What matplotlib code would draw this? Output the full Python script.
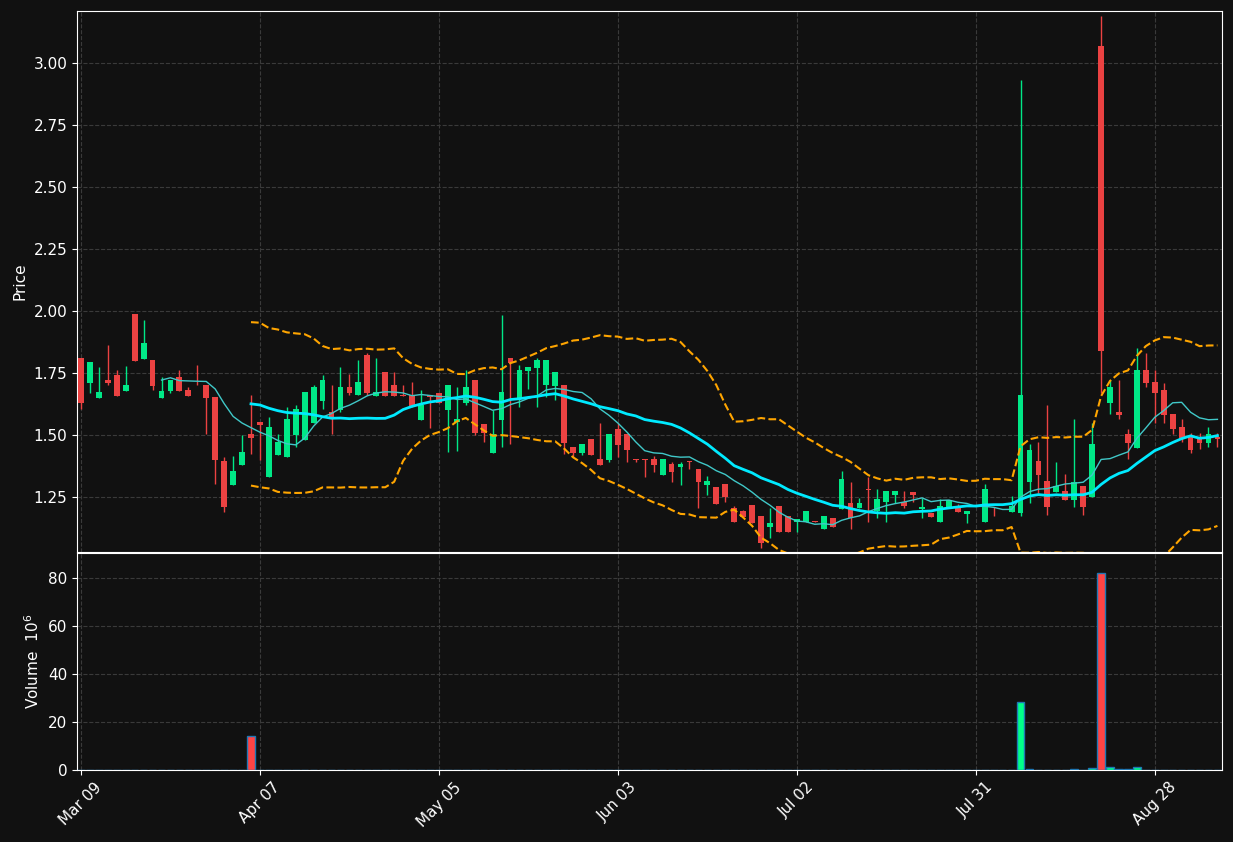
#!/usr/bin/env python
"""Candlestick chart with MA10 / MA20, Bollinger bands and volume panel."""
import numpy as np
import pandas as pd
import matplotlib
matplotlib.use("Agg")
import matplotlib.pyplot as plt

# OHLC per trading session (index 0..127)
opens = [1.810, 1.711, 1.650, 1.722, 1.742, 1.679, 1.988, 1.808, 1.802, 1.650,
         1.679, 1.733, 1.681, 1.702, 1.702, 1.653, 1.395, 1.300, 1.380, 1.504,
         1.552, 1.332, 1.421, 1.413, 1.501, 1.481, 1.550, 1.638, 1.592, 1.602,
         1.694, 1.663, 1.823, 1.659, 1.754, 1.702, 1.663, 1.660, 1.562, 1.660,
         1.668, 1.602, 1.551, 1.630, 1.722, 1.543, 1.429, 1.562, 1.809, 1.650,
         1.758, 1.771, 1.702, 1.699, 1.702, 1.452, 1.427, 1.484, 1.403, 1.399,
         1.524, 1.504, 1.405, 1.405, 1.403, 1.339, 1.383, 1.371, 1.394, 1.363,
         1.300, 1.290, 1.302, 1.204, 1.194, 1.218, 1.173, 1.130, 1.214, 1.173,
         1.150, 1.150, 1.152, 1.122, 1.164, 1.202, 1.225, 1.206, 1.283, 1.195,
         1.231, 1.258, 1.231, 1.270, 1.202, 1.184, 1.150, 1.211, 1.207, 1.183,
         1.154, 1.150, 1.174, 1.174, 1.191, 1.184, 1.312, 1.395, 1.315, 1.270,
         1.274, 1.238, 1.294, 1.251, 3.069, 1.630, 1.594, 1.504, 1.449, 1.762,
         1.714, 1.681, 1.584, 1.533, 1.493, 1.485, 1.469, 1.493]
highs = [1.810, 1.794, 1.773, 1.862, 1.762, 1.778, 1.988, 1.964, 1.802, 1.733,
         1.722, 1.762, 1.692, 1.781, 1.702, 1.653, 1.413, 1.415, 1.499, 1.660,
         1.552, 1.571, 1.504, 1.614, 1.620, 1.673, 1.700, 1.742, 1.700, 1.773,
         1.745, 1.801, 1.830, 1.809, 1.754, 1.754, 1.700, 1.714, 1.681, 1.660,
         1.668, 1.702, 1.692, 1.761, 1.722, 1.543, 1.601, 1.983, 1.809, 1.781,
         1.774, 1.810, 1.802, 1.754, 1.702, 1.452, 1.464, 1.484, 1.547, 1.504,
         1.547, 1.504, 1.405, 1.405, 1.415, 1.403, 1.392, 1.392, 1.394, 1.363,
         1.335, 1.290, 1.302, 1.214, 1.198, 1.218, 1.173, 1.204, 1.214, 1.173,
         1.160, 1.194, 1.152, 1.173, 1.164, 1.355, 1.312, 1.245, 1.332, 1.281,
         1.274, 1.274, 1.274, 1.270, 1.247, 1.184, 1.241, 1.238, 1.220, 1.194,
         1.154, 1.301, 1.211, 1.174, 1.254, 2.930, 1.462, 1.471, 1.620, 1.392,
         1.343, 1.563, 1.294, 1.550, 3.190, 1.722, 1.722, 1.523, 1.850, 1.830,
         1.762, 1.711, 1.584, 1.563, 1.509, 1.509, 1.531, 1.507]
lows = [1.605, 1.671, 1.650, 1.700, 1.659, 1.679, 1.800, 1.808, 1.681, 1.650,
        1.671, 1.679, 1.659, 1.700, 1.504, 1.301, 1.188, 1.300, 1.380, 1.422,
        1.399, 1.332, 1.421, 1.413, 1.450, 1.481, 1.550, 1.604, 1.503, 1.592,
        1.660, 1.660, 1.663, 1.659, 1.659, 1.659, 1.659, 1.612, 1.562, 1.527,
        1.630, 1.430, 1.434, 1.620, 1.500, 1.471, 1.429, 1.450, 1.462, 1.612,
        1.687, 1.612, 1.652, 1.640, 1.422, 1.413, 1.419, 1.421, 1.380, 1.392,
        1.413, 1.392, 1.392, 1.332, 1.352, 1.339, 1.312, 1.300, 1.362, 1.204,
        1.259, 1.223, 1.231, 1.150, 1.171, 1.146, 1.043, 1.083, 1.110, 1.110,
        1.110, 1.150, 1.149, 1.122, 1.130, 1.202, 1.122, 1.206, 1.150, 1.164,
        1.150, 1.225, 1.204, 1.231, 1.164, 1.171, 1.150, 1.211, 1.191, 1.146,
        1.152, 1.150, 1.172, 1.172, 1.191, 1.173, 1.225, 1.265, 1.177, 1.270,
        1.239, 1.211, 1.176, 1.251, 1.670, 1.584, 1.563, 1.402, 1.449, 1.695,
        1.550, 1.550, 1.503, 1.472, 1.429, 1.442, 1.450, 1.450]
closes = [1.630, 1.794, 1.673, 1.711, 1.659, 1.702, 1.800, 1.871, 1.699, 1.677,
          1.722, 1.679, 1.659, 1.700, 1.650, 1.399, 1.211, 1.355, 1.431, 1.489,
          1.540, 1.533, 1.473, 1.565, 1.605, 1.673, 1.694, 1.722, 1.573, 1.694,
          1.671, 1.714, 1.671, 1.673, 1.659, 1.659, 1.659, 1.612, 1.621, 1.655,
          1.630, 1.702, 1.563, 1.694, 1.509, 1.509, 1.504, 1.673, 1.789, 1.762,
          1.774, 1.802, 1.802, 1.754, 1.467, 1.427, 1.464, 1.421, 1.380, 1.504,
          1.461, 1.441, 1.401, 1.401, 1.379, 1.403, 1.352, 1.383, 1.390, 1.312,
          1.315, 1.223, 1.250, 1.150, 1.171, 1.146, 1.063, 1.146, 1.110, 1.110,
          1.160, 1.194, 1.149, 1.173, 1.130, 1.323, 1.164, 1.225, 1.280, 1.241,
          1.274, 1.274, 1.214, 1.258, 1.211, 1.171, 1.214, 1.238, 1.191, 1.194,
          1.152, 1.281, 1.172, 1.172, 1.214, 1.661, 1.440, 1.339, 1.211, 1.296,
          1.239, 1.312, 1.211, 1.464, 1.840, 1.695, 1.581, 1.469, 1.762, 1.711,
          1.671, 1.582, 1.524, 1.483, 1.440, 1.469, 1.504, 1.485]
# volume in millions
volume = [0, 0, 0, 0, 0, 0, 0, 0, 0, 0, 0, 0, 0, 0, 0, 0,
          0, 0, 0, 14.0, 0, 0, 0, 0, 0, 0, 0, 0, 0, 0, 0, 0,
          0, 0, 0, 0, 0, 0, 0, 0, 0, 0, 0, 0, 0, 0, 0, 0,
          0, 0, 0, 0, 0, 0, 0, 0, 0, 0, 0, 0, 0, 0, 0, 0,
          0, 0, 0, 0, 0, 0, 0, 0, 0, 0, 0, 0, 0, 0, 0, 0,
          0, 0, 0, 0, 0, 0, 0, 0, 0, 0, 0, 0, 0, 0, 0, 0,
          0, 0, 0, 0, 0, 0, 0, 0, 0, 28.2, 0.3, 0, 0, 0, 0, 0.3,
          0, 0.7, 82.0, 1.1, 0.3, 0.3, 1.1, 0, 0, 0, 0, 0, 0, 0, 0, 0]
tick_pos = [0, 20, 40, 60, 80, 100, 120]
tick_labels = ["Mar 09", "Apr 07", "May 05", "Jun 03", "Jul 02", "Jul 31", "Aug 28"]

BG = "#111111"
UP, DOWN = "#00e887", "#eb4242"
VUP, VDOWN = "#00ff88", "#ff4444"

df = pd.DataFrame({"o": opens, "h": highs, "l": lows, "c": closes, "v": volume})
x = np.arange(len(df))
up = df.c >= df.o
ma10 = df.c.rolling(10).mean()
ma20 = df.c.rolling(20).mean()
sd20 = df.c.rolling(20).std()

fig = plt.figure(figsize=(12.33, 8.42), dpi=100, facecolor=BG)
ax = fig.add_axes([0.0624, 0.3444, 0.9286, 0.6425], facecolor=BG)
axv = fig.add_axes([0.0624, 0.0855, 0.9286, 0.2577], facecolor=BG, sharex=ax)

colors = np.where(up, UP, DOWN)
ax.vlines(x, df.l, df.h, colors=colors, linewidth=1, zorder=2)
body_lo = np.minimum(df.o, df.c)
body_h = np.maximum((df.c - df.o).abs(), 0.003)
ax.bar(x, body_h, bottom=body_lo, width=0.65, color=colors, linewidth=0, zorder=3)

ax.plot(x, ma10, color="#40c8c8", linewidth=1.0, zorder=4)
ax.plot(x, ma20, color="#00eaff", linewidth=2.0, zorder=4)
ax.plot(x, ma20 + 2 * sd20, color="#ffa500", linestyle="--", linewidth=1.5, zorder=4)
ax.plot(x, ma20 - 2 * sd20, color="#ffa500", linestyle="--", linewidth=1.5, zorder=4)

vcolors = np.where(up, VUP, VDOWN)
axv.bar(x, df.v, width=0.85, color=vcolors, edgecolor="#1f77b4", linewidth=1, zorder=3)

ax.set_xlim(-0.45, 127.5)
ax.set_ylim(1.028, 3.21)
axv.set_ylim(0, 90.4)
ax.set_yticks([1.25, 1.50, 1.75, 2.00, 2.25, 2.50, 2.75, 3.00])
axv.set_yticks([0, 20, 40, 60, 80])
axv.set_xticks(tick_pos)
axv.set_xticklabels(tick_labels, rotation=45, ha="center")

ax.set_ylabel("Price", color="white", fontsize=11)
axv.set_ylabel("Volume  $10^{6}$", color="white", fontsize=11)

for a in (ax, axv):
    a.grid(True, color="#3a3a3a", linestyle="--", linewidth=0.8)
    a.set_axisbelow(True)
    for s in a.spines.values():
        s.set_color("white")
    a.tick_params(colors="white", labelsize=11)
ax.tick_params(axis="x", bottom=False, labelbottom=False)

fig.savefig("out.png", facecolor=BG)
